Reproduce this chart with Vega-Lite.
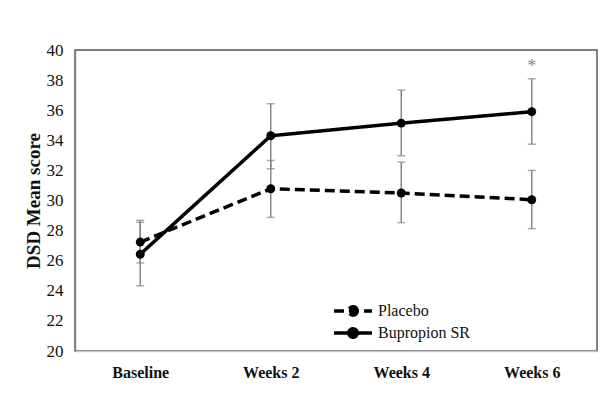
{
  "$schema": "https://vega.github.io/schema/vega-lite/v6.json",
  "width": 522,
  "height": 301,
  "autosize": "none",
  "padding": {"left": 75, "top": 50, "right": 17, "bottom": 57},
  "background": "white",
  "config": {
    "font": "Liberation Serif",
    "view": {"stroke": "#555", "strokeWidth": 1.5},
    "axis": {"grid": false, "ticks": false, "labelFont": "Liberation Serif", "titleFont": "Liberation Serif", "labelColor": "#111", "titleColor": "#111"},
    "axisX": {"labelFontSize": 16, "labelFontWeight": "bold", "labelAngle": 0, "labelPadding": 13, "domainColor": "#c8c8c8", "domainWidth": 1.5},
    "legend": {
      "orient": "none", "legendX": 268, "legendY": 251, "padding": 0,
      "symbolSize": 256, "labelOffset": 15,
      "labelFont": "Liberation Serif", "labelFontSize": 16, "labelColor": "#111",
      "symbolType": "M-2.375,0H2.375M0.525,0A0.525,0.525 0 1,1 -0.525,0A0.525,0.525 0 1,1 0.525,0Z",
      "symbolFillColor": "black", "symbolStrokeColor": "black", "symbolStrokeWidth": 3.5
    }
  },
  "datasets": {
    "scores": [
      {"week": "Baseline", "group": "Placebo", "mean": 27.24, "lo": 25.85, "hi": 28.68},
      {"week": "Weeks 2", "group": "Placebo", "mean": 30.78, "lo": 28.88, "hi": 32.66},
      {"week": "Weeks 4", "group": "Placebo", "mean": 30.5, "lo": 28.53, "hi": 32.55},
      {"week": "Weeks 6", "group": "Placebo", "mean": 30.05, "lo": 28.13, "hi": 32.0},
      {"week": "Baseline", "group": "Bupropion SR", "mean": 26.43, "lo": 24.33, "hi": 28.55},
      {"week": "Weeks 2", "group": "Bupropion SR", "mean": 34.3, "lo": 32.11, "hi": 36.43},
      {"week": "Weeks 4", "group": "Bupropion SR", "mean": 35.14, "lo": 32.97, "hi": 37.34},
      {"week": "Weeks 6", "group": "Bupropion SR", "mean": 35.9, "lo": 33.74, "hi": 38.09}
    ],
    "notes": [
      {"week": "Weeks 6", "y": 38.9, "label": "*"}
    ]
  },
  "data": {"name": "scores"},
  "encoding": {
    "x": {
      "field": "week", "type": "ordinal",
      "sort": ["Baseline", "Weeks 2", "Weeks 4", "Weeks 6"],
      "scale": {"type": "point", "padding": 0.5},
      "axis": {"title": null, "labelAngle": 0}
    }
  },
  "layer": [
    {
      "mark": {"type": "rule", "color": "#888", "strokeWidth": 1.5},
      "encoding": {
        "y": {
          "field": "lo", "type": "quantitative",
          "scale": {"domain": [20, 40], "nice": false, "zero": false},
          "axis": {
            "title": "DSD Mean score",
            "values": [20, 22, 24, 26, 28, 30, 32, 34, 36, 38, 40],
            "tickCount": 11,
            "labelOverlap": false,
            "labelFont": "Liberation Serif", "labelFontSize": 17, "labelColor": "#111",
            "labelPadding": 12, "ticks": false, "grid": false,
            "domainColor": "#888", "domainWidth": 1.5,
            "titleFont": "Liberation Serif", "titleFontSize": 19, "titleFontWeight": "bold",
            "titleColor": "#111", "titlePadding": 3
          }
        },
        "y2": {"field": "hi"},
        "detail": {"field": "group"}
      }
    },
    {
      "mark": {"type": "tick", "color": "#888", "size": 8, "thickness": 1.5},
      "encoding": {"y": {"field": "lo", "type": "quantitative"}}
    },
    {
      "mark": {"type": "tick", "color": "#888", "size": 8, "thickness": 1.5},
      "encoding": {"y": {"field": "hi", "type": "quantitative"}}
    },
    {
      "mark": {"type": "line", "color": "black", "strokeWidth": 3.5},
      "encoding": {
        "y": {"field": "mean", "type": "quantitative"},
        "strokeDash": {
          "field": "group", "type": "nominal",
          "scale": {"domain": ["Placebo", "Bupropion SR"], "range": [[10, 5], [1, 0]]},
          "legend": {"title": null, "rowPadding": -4}
        }
      }
    },
    {
      "mark": {"type": "point", "filled": true, "color": "black", "size": 80, "opacity": 1},
      "encoding": {"y": {"field": "mean", "type": "quantitative"}}
    },
    {
      "data": {"name": "notes"},
      "mark": {"type": "text", "color": "#888", "fontSize": 18, "font": "Liberation Serif", "baseline": "middle"},
      "encoding": {
        "y": {"field": "y", "type": "quantitative"},
        "text": {"field": "label"}
      }
    }
  ]
}
